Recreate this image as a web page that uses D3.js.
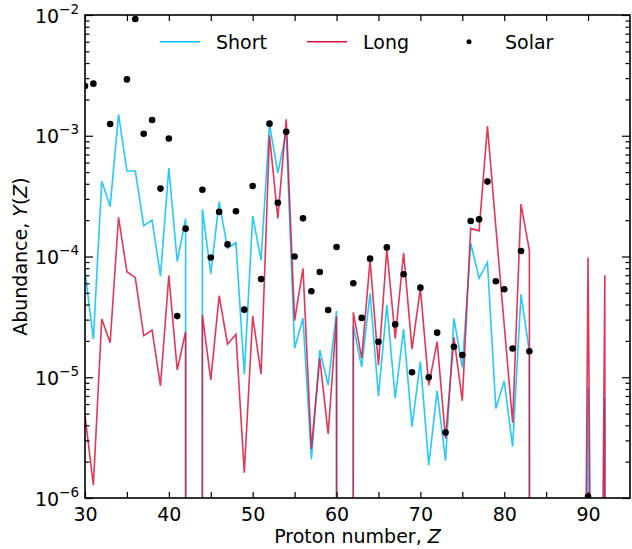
<!DOCTYPE html>
<html>
<head>
<meta charset="utf-8">
<script src="https://cdn.jsdelivr.net/npm/d3@7"></script>
<style>
    body { margin: 0; background: #fff; }
    text { font-family: "DejaVu Sans", sans-serif; fill: #000; }
</style>
</head>
<body>
<div id="area_grafico"></div>
<script>

// Dados (Z = 30 ... 95), zeros caem para fora do eixo
const protonNumber = [30, 31, 32, 33, 34, 35, 36, 37, 38, 39, 40, 41, 42, 43, 44, 45, 46, 47, 48, 49,
    50, 51, 52, 53, 54, 55, 56, 57, 58, 59, 60, 61, 62, 63, 64, 65, 66, 67, 68, 69,
    70, 71, 72, 73, 74, 75, 76, 77, 78, 79, 80, 81, 82, 83, 84, 85, 86, 87, 88, 89,
    90, 91, 92, 93, 94, 95]

const shortYield = [7.5e-5, 2.07e-5, 4.2e-4, 2.6e-4, 1.5e-3, 5.1e-4, 5.1e-4, 1.8e-4, 2.0e-4, 6.9e-5,
    5.4e-4, 9.1e-5, 2.06e-4, 0, 2.46e-4, 7.2e-5, 2.84e-4, 1.17e-4, 1.3e-4, 1.06e-5,
    2.16e-4, 9.3e-5, 1.25e-3, 4.9e-4, 1.08e-3, 1.74e-5, 3.08e-5, 2.09e-6, 1.68e-5, 8.6e-6,
    3.54e-5, 0, 2.65e-5, 1.22e-5, 4.96e-5, 7.0e-6, 3.97e-5, 6.7e-6, 2.5e-5, 3.9e-6,
    1.35e-5, 1.87e-6, 7.7e-6, 2.04e-6, 3.07e-5, 1.21e-5, 1.29e-4, 6.6e-5, 8.95e-5, 5.5e-6,
    9.3e-6, 2.66e-6, 4.86e-5, 1.63e-5, 0, 0, 0, 0, 0, 1e-13,
    8.1e-6, 1e-13, 6.7e-6, 0, 0, 0]

const longYield = [4.8e-6, 1.28e-6, 3.04e-5, 1.93e-5, 2.11e-4, 7.48e-5, 6.68e-5, 2.21e-5, 2.46e-5, 8.5e-6,
    6.94e-5, 1.15e-5, 2.38e-5, 0, 3.28e-5, 9.5e-6, 4.73e-5, 1.88e-5, 2.27e-5, 1.62e-6,
    3.21e-5, 1.06e-5, 1.01e-3, 2.07e-4, 1.37e-3, 2.95e-5, 7.98e-5, 2.55e-6, 1.44e-5, 3.4e-6,
    3.18e-5, 0, 3.45e-5, 1.44e-5, 9.35e-5, 1.26e-5, 1.15e-4, 2.1e-5, 1.07e-4, 1.71e-5,
    5.45e-5, 8.6e-6, 1.97e-5, 3.1e-6, 2.14e-5, 6.4e-6, 1.71e-4, 1.63e-4, 1.2e-3, 1.75e-4,
    2.71e-5, 4.2e-6, 2.72e-4, 1.12e-4, 0, 0, 0, 0, 0, 1e-13,
    9.8e-5, 1e-13, 7.0e-5, 0, 0, 0]

// Abundâncias solares
const solarZ = [30, 31, 33, 35, 36, 37, 38, 39, 40, 41, 42, 44, 45, 46, 47, 48, 49, 50, 51, 52,
    53, 54, 55, 56, 57, 58, 59, 60, 62, 63, 64, 65, 66, 67, 68, 69, 70, 71, 72, 73,
    74, 75, 76, 77, 78, 79, 80, 81, 82, 83, 90]

const solarYield = [2.58e-3, 2.7e-3, 1.25e-3, 2.93e-3, 9.27e-3, 1.04e-3, 1.35e-3, 3.65e-4, 9.5e-4, 3.21e-5,
    1.7e-4, 3.57e-4, 9.8e-5, 2.34e-4, 1.26e-4, 2.37e-4, 3.63e-5, 3.84e-4, 6.5e-5, 1.26e-3,
    2.79e-4, 1.08e-3, 1.0e-4, 2.07e-4, 5.15e-5, 7.45e-5, 3.61e-5, 1.2e-4, 6.0e-5, 3.1e-5,
    9.6e-5, 1.97e-5, 1.19e-4, 2.74e-5, 7.13e-5, 1.1e-5, 5.52e-5, 1.0e-5, 2.34e-5, 3.48e-6,
    1.79e-5, 1.53e-5, 1.97e-4, 2.03e-4, 4.17e-4, 6.23e-5, 5.35e-5, 1.73e-5, 1.11e-4, 1.64e-5,
    1.03e-6]

// Ticks
const xTicks = [30, 40, 50, 60, 70, 80, 90]
const xMinorTicks = [35, 45, 55, 65, 75, 85]
const yTicks = [1e-6, 1e-5, 1e-4, 1e-3, 1e-2]
const yTickExp = ["\u22126", "\u22125", "\u22124", "\u22123", "\u22122"]
const yMinorFactors = [2, 3, 4, 5, 6, 7, 8, 9]

const legendNames = ["Short", "Long", "Solar"]
const cores = { short: "#00bfff", long: "crimson", solar: "#000" }

// Configurações do gráfico
let margin = { top: 15, right: 2, bottom: 51, left: 85 }
let width = 632 - margin.left - margin.right
let height = 549 - margin.top - margin.bottom

let svg = d3.select("#area_grafico").append("svg")
    .attr("width", 632)
    .attr("height", 549)
    .append("g")
    .attr("transform", `translate(${margin.left}, ${margin.top})`)

// Escalas
let x = d3.scaleLinear().domain([30, 95]).range([0, width])
let y = d3.scaleLog().domain([1e-6, 1e-2]).range([height, 0])

// Recorte da área do gráfico
svg.append("clipPath").attr("id", "recorte")
    .append("rect").attr("width", width).attr("height", height)

const plano = svg.append("g").attr("clip-path", "url(#recorte)")

// valores nulos vão para muito abaixo do eixo (como no log do matplotlib)
let line = d3.line()
    .x((d, i) => x(protonNumber[i]))
    .y(d => y(d > 0 ? d : 1e-300))

plano.append("path")
    .datum(shortYield)
    .attr("d", line)
    .attr("fill", "none")
    .attr("stroke", cores.short)
    .attr("stroke-opacity", 0.85)
    .attr("stroke-width", 1.6)

plano.append("path")
    .datum(longYield)
    .attr("d", line)
    .attr("fill", "none")
    .attr("stroke", cores.long)
    .attr("stroke-opacity", 0.85)
    .attr("stroke-width", 1.6)

plano.selectAll(".solar")
    .data(solarZ)
    .enter().append("circle")
    .attr("class", "solar")
    .attr("cx", d => x(d))
    .attr("cy", (d, i) => y(solarYield[i]))
    .attr("r", 3.3)
    .attr("fill", cores.solar)

// Minor ticks do eixo y
const yMinor = []
for (let k = -6; k < -2; k++) {
    for (let f of yMinorFactors) yMinor.push(f * Math.pow(10, k))
}

function limpar(g) {
    g.select(".domain").remove()
    g.selectAll(".tick line").attr("stroke", "#000").attr("stroke-width", 1.2)
}

// Eixos x
svg.append("g")
    .attr("transform", `translate(0, ${height})`)
    .call(d3.axisBottom(x).tickValues(xTicks).tickSizeInner(-6).tickSizeOuter(0).tickPadding(10).tickFormat(d3.format("d")))
    .call(limpar)
    .selectAll("text").style("font-size", "19px").attr("font-family", "DejaVu Sans")

svg.append("g")
    .attr("transform", `translate(0, ${height})`)
    .call(d3.axisBottom(x).tickValues(xMinorTicks).tickSizeInner(-6).tickSizeOuter(0).tickFormat(""))
    .call(limpar)

svg.append("g")
    .call(d3.axisTop(x).tickValues(xTicks.concat(xMinorTicks)).tickSizeInner(-6).tickSizeOuter(0).tickFormat(""))
    .call(limpar)

// Eixos y
let eixoY = svg.append("g")
    .call(d3.axisLeft(y).tickValues(yTicks).tickSizeInner(-8).tickSizeOuter(0).tickPadding(6).tickFormat(""))
    .call(limpar)

eixoY.selectAll(".tick").each(function (d, i) {
    let t = d3.select(this).append("text")
        .attr("x", -6)
        .attr("y", 7)
        .attr("text-anchor", "end")
        .style("font-size", "19px")
    t.append("tspan").text("10")
    t.append("tspan").attr("dy", -9).style("font-size", "13.5px").text(yTickExp[i])
})

svg.append("g")
    .call(d3.axisLeft(y).tickValues(yMinor).tickSizeInner(-4.5).tickSizeOuter(0).tickFormat(""))
    .call(limpar)

svg.append("g")
    .attr("transform", `translate(${width}, 0)`)
    .call(d3.axisRight(y).tickValues(yTicks).tickSizeInner(-8).tickSizeOuter(0).tickFormat(""))
    .call(limpar)

svg.append("g")
    .attr("transform", `translate(${width}, 0)`)
    .call(d3.axisRight(y).tickValues(yMinor).tickSizeInner(-4.5).tickSizeOuter(0).tickFormat(""))
    .call(limpar)

// Moldura
svg.append("rect")
    .attr("width", width)
    .attr("height", height)
    .attr("fill", "none")
    .attr("stroke", "#000")
    .attr("stroke-width", 1.6)

// Títulos dos eixos
let tituloX = svg.append("text")
    .attr("x", width / 2)
    .attr("y", height + 45)
    .attr("text-anchor", "middle")
    .style("font-size", "19px")
tituloX.append("tspan").text("Proton number, ")
tituloX.append("tspan").style("font-style", "italic").text("Z")

let tituloY = svg.append("text")
    .attr("transform", `translate(${27 - margin.left}, ${height / 2}) rotate(-90)`)
    .attr("text-anchor", "middle")
    .style("font-size", "19px")
tituloY.append("tspan").text("Abundance, ")
tituloY.append("tspan").style("font-style", "italic").text("Y")
tituloY.append("tspan").text("(")
tituloY.append("tspan").style("font-style", "italic").text("Z")
tituloY.append("tspan").text(")")

// Legenda
let legenda = svg.append("g").attr("transform", `translate(0, ${41.7 - margin.top})`)
const legX = [75, 222, 384]
legenda.append("line").attr("x1", legX[0]).attr("x2", legX[0] + 40)
    .attr("stroke", cores.short).attr("stroke-width", 1.6)
legenda.append("line").attr("x1", legX[1]).attr("x2", legX[1] + 40)
    .attr("stroke", cores.long).attr("stroke-width", 1.6)
legenda.append("circle").attr("cx", legX[2]).attr("r", 2.5).attr("fill", cores.solar)

const legTextX = [131, 278, 420]
legendNames.forEach((nome, i) => {
    legenda.append("text")
        .attr("x", legTextX[i])
        .attr("y", 7)
        .style("font-size", "19px")
        .text(nome)
})

</script>
</body>
</html>
